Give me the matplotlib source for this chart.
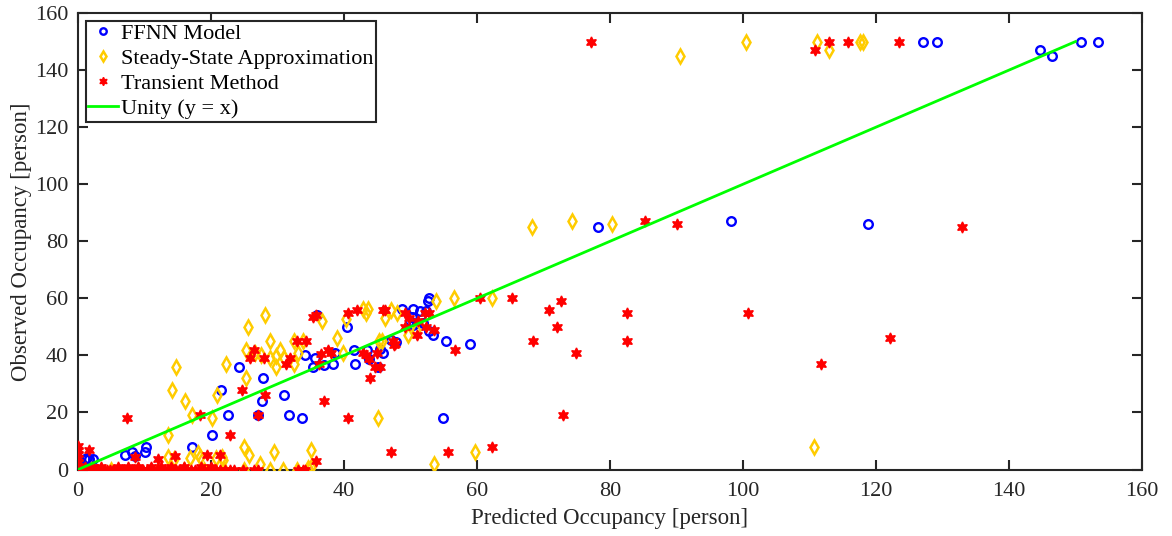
import numpy as np
from matplotlib import pyplot as plt

plt.rcParams['font.family'] = ['Liberation Serif', 'DejaVu Serif']

# FFNN model (predicted, observed)
ffnn_x = [127.1, 129.2, 144.7, 146.5, 150.8, 153.4, 78.2, 98.2, 118.8,
          52.8, 52.6, 35.9, 40.5, 48.7, 50.3, 51.4, 52.4, 50.2, 50.9, 51.9, 53.4,
          49.9, 50.4, 52.8, 47.0, 47.8, 55.4, 59.0, 45.4, 45.9, 34.1, 35.7, 35.4,
          37.0, 38.4, 38.7, 41.6, 41.5, 43.5, 43.7, 45.1, 24.2, 27.8, 21.5, 27.7,
          30.9, 27.1, 31.7, 33.7, 54.9, 22.5, 20.1, 17.2, 10.2, 10.0, 8.1, 7.1,
          8.6, 1.0, 1.7, 2.3, 1.3]
ffnn_y = [150, 150, 147, 145, 150, 150, 85, 87, 86,
          60, 59, 54, 50, 56.3, 56.3, 55.4, 55.4, 53.4, 51.3, 51.3, 47,
          51.9, 50.5, 48.4, 45.4, 44.8, 45, 44, 42.2, 41, 40, 39, 36.1,
          36.7, 37, 41, 37, 42, 42, 38.8, 36.1, 36, 32, 28, 24,
          26, 19, 19, 18, 18, 19, 12, 8, 8, 6, 6, 5,
          4.7, 3.6, 3.8, 3.8, 4]

# Steady-state approximation
ssa_x = [90.5, 100.4, 111.2, 112.9, 117.6, 118.0, 68.3, 74.3, 80.3, 110.7,
         53.9, 56.6, 62.3, 36.7, 40.3, 42.9, 43.6, 43.3, 47.1, 48.0, 46.2, 49.6,
         50.8, 45.7, 45.3, 39.0, 39.8, 33.1, 32.4, 33.9, 32.5, 30.4, 29.7, 30.9,
         29.8, 28.9, 27.5, 26.6, 25.3, 28.9, 28.1, 25.5, 22.3, 14.8, 25.3, 14.2,
         16.1, 20.9, 17.2, 20.2, 45.1, 13.5, 24.9, 25.7, 27.4, 29.4, 35.1, 35.0,
         28.9, 30.8, 53.6, 59.7, 13.6, 14.4, 16.9, 18.0, 18.3, 20.8, 21.6, 21.8,
         2.0, 5.0, 9.0, 12.0, 16.0, 19.0, 22.0, 25.0, 33.0, 34.6]
ssa_y = [145, 150, 150, 147, 150, 150, 85, 87, 86, 8,
         59, 60, 60, 52, 52.8, 56.3, 56.3, 54.8, 56, 55, 53, 47,
         49, 45, 45, 46, 41, 41, 45, 45, 37, 42, 36, 39,
         39.8, 39, 40, 41, 42, 45, 54, 50, 37, 36, 32, 28,
         24, 26, 19, 18, 18, 12, 8, 5, 2, 6, 7, 1,
         0, 0, 2, 6, 4.3, 3.6, 3.9, 5.7, 4.3, 3.9, 4.5, 3.3,
         0, 0, 0, 0, 0, 0, 0, 0, 0, 0.5]

# Transient method
tm_x = [77.1, 110.8, 112.9, 115.8, 123.5, 85.3, 90.0, 133.0, 100.8, 122.1, 111.8,
        60.5, 65.2, 70.8, 72.7, 72.0, 82.6, 82.6, 68.4, 74.9, 56.7, 73.0, 62.2,
        55.7, 47.1,
        35.4, 35.8, 40.6, 42.0, 45.9, 46.2, 49.2, 49.7, 51.1, 52.1, 52.8, 49.2,
        51.0, 52.4, 53.5, 47.4, 47.7, 47.5, 33.0, 34.3, 31.9, 31.3, 36.6, 37.6,
        38.1, 36.3, 42.9, 43.3, 43.7, 44.9, 44.7, 45.4, 43.9, 26.4, 25.9, 27.9,
        24.7, 28.1, 27.1, 37.0, 40.6, 35.8, 33.8,
        7.4, 18.3, 22.8, 1.6, 8.5, 12.0, 14.6, 19.4, 21.4,
        0, 0, 0, 0, 0, 0, 0,
        0.3, 0.7, 1.1, 1.6, 2.0, 2.5, 3.0, 3.4, 3.9, 4.4, 4.8, 5.3, 5.8, 6.3,
        6.8, 7.3, 7.8, 8.3, 8.8, 9.3, 9.8, 10.3, 10.8, 11.3, 11.9, 12.4, 13.0,
        13.5, 14.1, 14.7, 15.2, 15.8, 16.4, 17.0, 17.6, 18.2, 18.9, 19.5, 20.1,
        20.8, 21.4, 22.1, 22.8, 23.5, 24.8, 26.5, 27.0, 33.1, 34.1,
        1.0, 3.5, 6.0, 9.0, 12.5, 16.0, 20.0, 2.2, 7.5, 11.0, 14.0, 18.5]
tm_y = [150, 147, 150, 150, 150, 87, 86, 85, 55, 46, 37,
        60, 60, 56, 59, 50, 55, 45, 45, 41, 42, 19, 8,
        6, 6,
        53.3, 54, 55, 56, 56, 56, 55, 53, 52, 55, 55, 50,
        47, 50, 49, 45, 44, 43.7, 45, 45, 39, 37, 40.4, 42,
        41, 37, 41, 40, 38.8, 41, 36, 36, 32, 42, 39, 39,
        28, 26, 19, 24, 18, 3, 0,
        18, 19, 12, 7, 4.3, 3.6, 4.7, 5, 5,
        0, 1.2, 2.7, 4, 5.4, 6.8, 8.2,
        0, 0, 0, 0, 0, 0, 0, 0, 0, 0, 0, 0, 0, 0,
        0, 0, 0, 0, 0, 0, 0, 0, 0, 0, 0, 0, 0,
        0, 0, 0, 0, 0, 0, 0, 0, 0, 0, 0, 0, 0,
        0, 0, 0, 0, 0, 0, 0, 0, 0,
        1, 1, 1, 1, 1, 1, 1, 0.8, 0.8, 0.8, 0.8, 0.8]

unity = [0, 150]

fig = plt.figure(figsize=(11.72, 5.36), dpi=100)
ax = fig.add_axes([0.0666, 0.124, 0.9078, 0.8517])

ax.plot(ffnn_x, ffnn_y, 'o', ls='none', mfc='none', mec='#0000FF', ms=6.2, mew=1.7,
        label='FFNN Model', zorder=3)
ax.plot(ssa_x, ssa_y, 'd', ls='none', mfc='none', mec='#FFCC00', ms=7, mew=1.8,
        label='Steady-State Approximation', zorder=3)
ax.plot(tm_x, tm_y, marker=(6, 1, 0), ls='none', mfc='#FF0000', mec='#FF0000', ms=8,
        mew=1.0, label='Transient Method', zorder=4)
ax.plot(unity, unity, '-', color='#00FF00', lw=2, label='Unity (y = x)', zorder=5)

ax.set_xlim(0, 160)
ax.set_ylim(0, 160)
ax.set_xticks(np.arange(0, 161, 20))
ax.set_yticks(np.arange(0, 161, 20))
ax.tick_params(axis='x', pad=9)
ax.tick_params(direction='in', top=True, right=True, length=7, width=1.5,
               labelsize=16, colors='#262626')
ax.tick_params(axis='y', pad=7)
for s in ax.spines.values():
    s.set_linewidth(1.5)
    s.set_color('#262626')

ax.set_xlabel('Predicted Occupancy [person]', fontsize=16.5, color='#262626', labelpad=5)
ax.set_ylabel('Observed Occupancy [person]', fontsize=16.5, color='#262626', labelpad=2)

leg = ax.legend(loc='upper left', fontsize=16, fancybox=False, framealpha=1,
                edgecolor='#262626', borderaxespad=0.35, handlelength=1.35,
                handletextpad=0.12, labelspacing=0.2, borderpad=0.12, markerscale=0.75)
leg.get_frame().set_linewidth(1.5)

fig.savefig('out.png', dpi=100)
